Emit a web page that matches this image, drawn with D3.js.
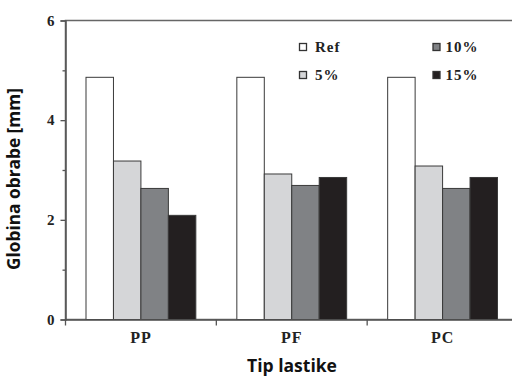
<!DOCTYPE html>
<html>
<head>
<meta charset="utf-8">
<script src="https://cdn.jsdelivr.net/npm/d3@7"></script>
<style>
  html, body { margin: 0; padding: 0; background: #fff; }
  svg { display: block; }
</style>
</head>
<body>
<svg id="chart" width="512" height="376"></svg>
<script>
// Tire types on the x axis
const categories = ["PP", "PF", "PC"];
// Series: reference and rubber content levels
const series = ["Ref", "5%", "10%", "15%"];
// Machining depth [mm] per series, in category order
const refValues = [4.86, 4.86, 4.86];
const p5Values  = [3.18, 2.92, 3.08];
const p10Values = [2.63, 2.69, 2.63];
const p15Values = [2.09, 2.85, 2.85];
const yTicks = [0, 2, 4, 6];
const yMinorTicks = [1, 3, 5];

const values = [refValues, p5Values, p10Values, p15Values];
const colors = ["#ffffff", "#d5d6d8", "#808285", "#231f20"];

const svg = d3.select("#chart");
const plotLeft = 65.5, plotTop = 20.5, plotBottom = 319.5, plotRight = 518;

const x = d3.scaleBand().domain(categories).range([plotLeft, plotRight]).padding(0);
const inner = d3.scaleBand().domain(series)
  .range([20.5, x.bandwidth() - 20.5]).padding(0);
const y = d3.scaleLinear().domain([0, 6]).range([plotBottom, plotTop]);

// frame
svg.append("rect")
  .attr("x", plotLeft).attr("y", plotTop)
  .attr("width", plotRight - plotLeft).attr("height", plotBottom - plotTop)
  .attr("fill", "none").attr("stroke", "#666").attr("stroke-width", 1.5);

// bars
const groups = svg.append("g").selectAll("g")
  .data(categories)
  .join("g")
  .attr("transform", d => `translate(${x(d)},0)`);

groups.selectAll("rect")
  .data((c, ci) => series.map((s, si) => ({ s, si, v: values[si][ci] })))
  .join("rect")
  .attr("x", d => inner(d.s))
  .attr("width", inner.bandwidth())
  .attr("y", d => y(d.v))
  .attr("height", d => y(0) - y(d.v))
  .attr("fill", d => colors[d.si])
  .attr("stroke", "#3a3a3a")
  .attr("stroke-width", 1);

// y axis
const yAxis = svg.append("g")
  .attr("transform", `translate(${plotLeft},0)`)
  .call(d3.axisLeft(y).tickValues(yTicks).tickSize(5).tickPadding(6).tickFormat(d3.format("d")));
yAxis.select(".domain").attr("stroke", "#555").attr("stroke-width", 1.5);
yAxis.selectAll(".tick line").attr("stroke", "#555").attr("stroke-width", 1.3);
yAxis.selectAll(".tick text")
  .attr("font-family", "'Liberation Serif', 'Times New Roman', serif")
  .attr("font-weight", "bold").attr("font-size", 15).attr("fill", "#222");
svg.append("g")
  .attr("transform", `translate(${plotLeft},0)`)
  .call(d3.axisLeft(y).tickValues(yMinorTicks).tickSize(3).tickFormat(""))
  .call(g => g.select(".domain").remove())
  .selectAll(".tick line").attr("stroke", "#555").attr("stroke-width", 1.3);

// x axis
const xAxis = svg.append("g")
  .attr("transform", `translate(0,${plotBottom})`)
  .call(d3.axisBottom(x).tickSize(0).tickPadding(12));
xAxis.select(".domain").attr("stroke", "#555").attr("stroke-width", 1.5);
xAxis.selectAll(".tick text")
  .attr("font-family", "'Liberation Serif', 'Times New Roman', serif")
  .attr("font-weight", "bold").attr("font-size", 16)
  .attr("letter-spacing", 1).attr("fill", "#222");
// boundary ticks between categories
xAxis.selectAll(".sep")
  .data(categories)
  .join("line")
  .attr("class", "sep")
  .attr("x1", d => x(d)).attr("x2", d => x(d))
  .attr("y1", 0).attr("y2", 6)
  .attr("stroke", "#555").attr("stroke-width", 1.3);

// axis titles, font size fitted to a target run length
function fitText(sel, target) {
  const len = sel.node().getComputedTextLength();
  const size = parseFloat(sel.attr("font-size"));
  sel.attr("font-size", (size * target / len).toFixed(2));
}
const yTitle = svg.append("text")
  .attr("transform", `translate(19.5,179) rotate(-90)`)
  .attr("text-anchor", "middle")
  .attr("font-family", "'Open Sans', sans-serif")
  .attr("font-weight", "bold").attr("font-size", 16).attr("fill", "#111")
  .text("Globina obrabe [mm]");
fitText(yTitle, 182);
const xTitle = svg.append("text")
  .attr("x", 292).attr("y", 372)
  .attr("text-anchor", "middle")
  .attr("font-family", "'Open Sans', sans-serif")
  .attr("font-weight", "bold").attr("font-size", 17).attr("fill", "#111")
  .text("Tip lastike");
fitText(xTitle, 90);

// legend, two columns
const legendPos = [[299.5, 43.5], [299.5, 71.5], [433, 43.5], [433, 71.5]];
const legend = svg.append("g").selectAll("g")
  .data(series)
  .join("g")
  .attr("transform", (d, i) => `translate(${legendPos[i][0]},${legendPos[i][1]})`);
legend.append("rect")
  .attr("width", 7).attr("height", 7)
  .attr("fill", (d, i) => colors[i])
  .attr("stroke", "#333").attr("stroke-width", 1.3);
legend.append("text")
  .attr("x", (d, i) => i < 2 ? 15.5 : 12.5)
  .attr("y", 8.8)
  .attr("font-family", "'Liberation Serif', 'Times New Roman', serif")
  .attr("font-weight", "bold").attr("font-size", 15)
  .attr("letter-spacing", 1).attr("fill", "#222")
  .text(d => d);
</script>
</body>
</html>
